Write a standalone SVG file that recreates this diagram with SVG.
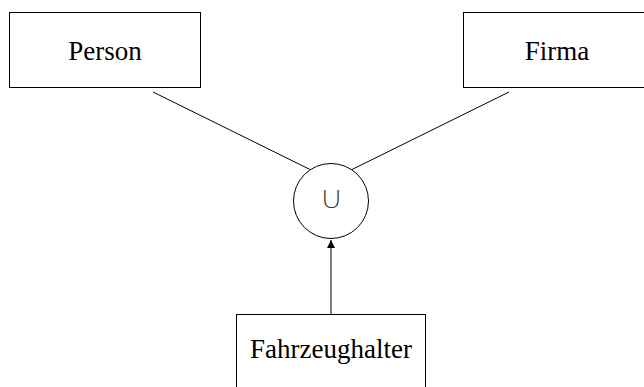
<svg xmlns="http://www.w3.org/2000/svg" width="644" height="387" viewBox="0 0 644 387">
<style>
.box{fill:#fff;stroke:#000;stroke-width:1}
.lbl{font-family:"Liberation Serif","DejaVu Serif",serif;font-size:27px;fill:#000;text-anchor:middle}
.edge{stroke:#000;stroke-width:1;fill:none}
</style>
<defs>
<marker id="arr" viewBox="0 0 10 10" refX="10" refY="5" markerWidth="8" markerHeight="8" markerUnits="userSpaceOnUse" orient="auto">
<path d="M0,0 L10,5 L0,10 Z" fill="#000"/>
</marker>
</defs>
<rect width="644" height="387" fill="#fff"/>
<g id="connectors">
<line class="edge" x1="153" y1="92" x2="311" y2="170"/>
<line class="edge" x1="509" y1="92" x2="351" y2="170"/>
<line class="edge" x1="331" y1="314" x2="331" y2="240" marker-end="url(#arr)"/>
</g>
<g id="person">
<rect class="box" x="9.5" y="12.5" width="191" height="75"/>
<text class="lbl" x="105" y="60">Person</text>
</g>
<g id="firma">
<rect class="box" x="463.5" y="12.5" width="191" height="75"/>
<text class="lbl" x="557" y="60">Firma</text>
</g>
<g id="union">
<circle cx="331" cy="201" r="37.5" fill="#fff" stroke="#000" stroke-width="1"/>
<text x="331" y="209" font-family="DejaVu Sans,sans-serif" font-weight="200" font-size="34" text-anchor="middle" fill="#333" stroke="#fff" stroke-width="1.3">∪</text>
</g>
<g id="fahrzeughalter">
<rect class="box" x="236.5" y="314.5" width="189" height="80"/>
<text class="lbl" x="331" y="358">Fahrzeughalter</text>
</g>
</svg>
